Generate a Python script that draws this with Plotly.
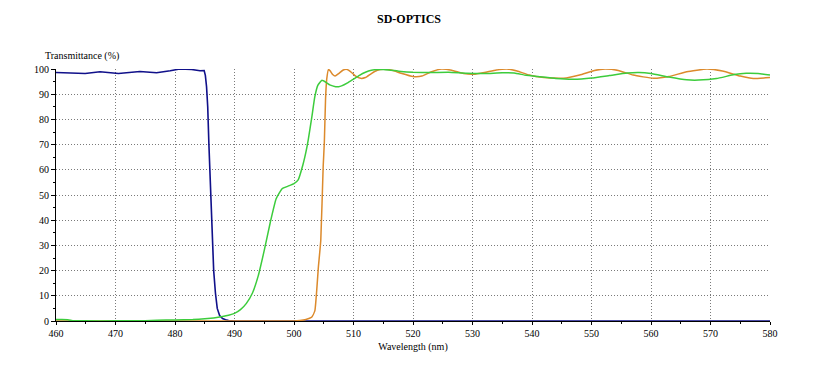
import plotly.graph_objects as go

# ---- data ----
wl_blue = [460, 461.8, 464.9, 467.4, 470.5, 474.1, 476.9, 479.2, 480.8, 482.8, 484.2, 484.9,
           485.1, 485.3, 485.5, 485.7, 485.9, 486.1, 486.3, 486.5, 486.8, 487.1, 487.5,
           488, 488.5, 489, 490, 500, 580]
t_blue = [98.6, 98.5, 98.2, 98.9, 98.2, 99.0, 98.5, 99.3, 100.0, 99.8, 99.3, 99.4,
          97.5, 93, 85, 70, 57, 45, 32, 20, 11, 5, 2.2,
          1.0, 0.5, 0.2, 0.0, 0.0, 0.0]

wl_green = [460, 461, 462, 463, 465, 470, 475, 477, 480, 483, 485, 486, 487, 488, 489, 490,
            491, 492, 493, 494, 495, 496, 497, 498, 499, 500, 500.7, 501.5, 502, 502.4,
            503, 503.5, 504, 504.7, 505.5, 506, 507, 507.5, 508, 509, 510, 511, 512,
            513, 514, 515, 516, 518, 520, 523, 526, 529, 532, 535, 537, 539, 541, 544, 547,
            550, 553, 556, 558, 560, 563, 566, 568, 571, 574, 576, 578, 580]
t_green = [0.6, 0.6, 0.5, 0.1, 0.05, 0.05, 0.1, 0.3, 0.4, 0.6, 0.9, 1.1, 1.4, 1.8, 2.3, 3.0,
           4.5, 7, 11, 18, 28, 39, 48.5, 52.5, 53.5, 54.5, 56, 62, 67, 72,
           81, 89, 93.5, 95.5, 94.5, 93.7, 93, 93, 93.3, 94.5, 96, 97.5, 98.7,
           99.5, 99.8, 99.8, 99.6, 99.0, 98.7, 98.6, 98.7, 98.3, 98.2, 98.5, 98.4, 97.5, 97, 96.2, 95.9,
           96.4, 97.4, 98.4, 98.6, 98.2, 96.8, 95.7, 95.6, 96.2, 97.8, 98.3, 98.2, 97.6]

wl_orange = [460, 500, 501, 502, 502.5, 503, 503.5, 504.1, 504.5, 504.9, 505.1, 505.3, 505.5,
             505.8, 506.1, 506.5, 506.9, 507.5, 508.2, 508.8, 509.5, 510.3, 511.2, 512, 513,
             514, 515, 516.5, 518, 520, 521.5, 523, 524.8, 526.5, 528.5, 530.2, 532, 534,
             535.8, 537.5, 539.5, 542, 545.3, 548, 550.5, 552.3, 554.5, 557, 560.4, 563, 566,
             569.4, 572, 575, 577.2, 580]
t_orange = [0, 0, 0.2, 0.6, 1.0, 1.6, 4, 21.5, 32, 61, 71, 88, 96,
            99.8, 99.2, 97.8, 97.2, 98.2, 99.5, 99.9, 99, 97.3, 96.3, 96.6, 98.2,
            99.5, 99.9, 99.5, 98.3, 97, 97.2, 98.8, 100, 99.5, 98.2, 97.9, 98.6, 99.6,
            100, 99.2, 97.6, 96.6, 96.3, 97.6, 99.4, 100, 99.4, 97.6, 96.3, 97, 98.9,
            100, 99.2, 97.2, 96.2, 96.6]

x_ticks = [460, 470, 480, 490, 500, 510, 520, 530, 540, 550, 560, 570, 580]
y_ticks = [0, 10, 20, 30, 40, 50, 60, 70, 80, 90, 100]

FONT = "Liberation Serif"
GRID_DASH = "1px,2px"

fig = go.Figure()
fig.add_trace(go.Scatter(x=wl_blue, y=t_blue, mode="lines",
                         line=dict(color="#10108a", width=1.6), showlegend=False))
fig.add_trace(go.Scatter(x=wl_orange, y=t_orange, mode="lines",
                         line=dict(color="#dc8a2c", width=1.5, shape="spline", smoothing=0.4),
                         showlegend=False))
fig.add_trace(go.Scatter(x=wl_green, y=t_green, mode="lines",
                         line=dict(color="#3ccc3c", width=1.5, shape="spline", smoothing=0.4),
                         showlegend=False))

fig.update_layout(
    width=818, height=377,
    margin=dict(l=48, r=56, t=61, b=64),
    paper_bgcolor="white", plot_bgcolor="white",
    title=dict(text="<b>SD-OPTICS</b>", x=401 / 818, xanchor="center", y=1 - 11 / 377,
               yref="container", yanchor="middle",
               font=dict(family=FONT, size=12, color="black")),
    font=dict(family=FONT, size=10, color="black"),
)

fig.update_xaxes(
    range=[460, 580], tickvals=x_ticks, ticktext=[str(v) for v in x_ticks],
    showline=True, linecolor="black", linewidth=1, mirror=False,
    ticks="outside", ticklen=3, tickcolor="black",
    minor=dict(dtick=5, tick0=460, ticks="outside", ticklen=2, tickcolor="black", showgrid=False),
    showgrid=True, gridcolor="#7a7a7a", griddash=GRID_DASH, gridwidth=1,
    zeroline=False,
    title=dict(text="Wavelength (nm)", font=dict(family=FONT, size=10, color="black"), standoff=4),
    tickfont=dict(family=FONT, size=10, color="black"),
)
fig.update_yaxes(
    range=[0, 100], tickvals=y_ticks, ticktext=[str(v) for v in y_ticks],
    showline=True, linecolor="black", linewidth=1, mirror=False,
    ticks="outside", ticklen=4, tickcolor="black",
    minor=dict(dtick=5, tick0=0, ticks="outside", ticklen=2, tickcolor="black", showgrid=False),
    showgrid=True, gridcolor="#7a7a7a", griddash=GRID_DASH, gridwidth=1,
    zeroline=False,
    tickfont=dict(family=FONT, size=10, color="black"),
)

fig.add_annotation(text="Transmittance (%)", xref="paper", yref="paper",
                   x=(43 - 56) / 714, y=1 + (69 - 55.7) / 252, xanchor="left", yanchor="middle",
                   showarrow=False, font=dict(family=FONT, size=10, color="black"))

fig.write_html("out.html")
